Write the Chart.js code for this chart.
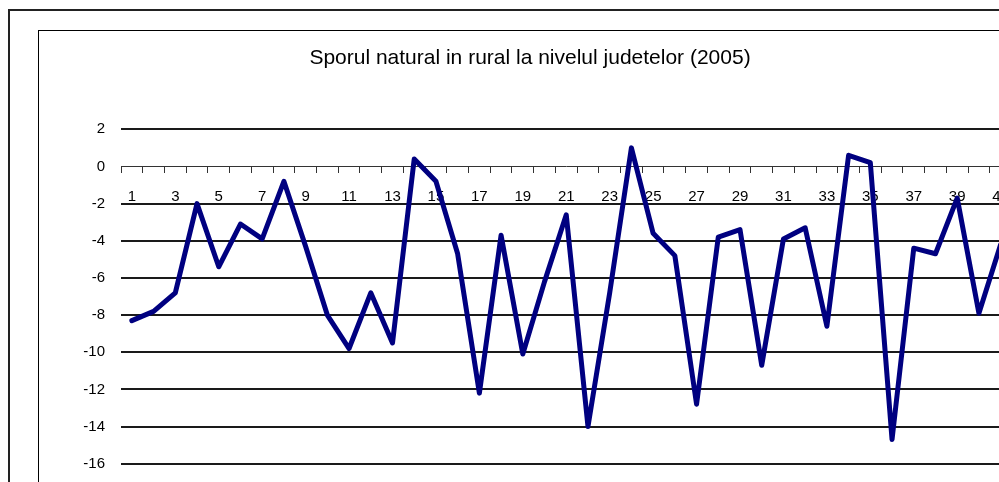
<!DOCTYPE html>
<html>
<head>
<meta charset="utf-8">
<script src="https://cdn.jsdelivr.net/npm/chart.js@4.4.1/dist/chart.umd.min.js"></script>
<style>
  html, body { margin: 0; padding: 0; background: #fff; overflow: hidden; width: 999px; height: 482px; }
  #outer { position: absolute; left: 8px; top: 9px; width: 1100px; height: 600px; border: 2px solid #222; box-sizing: border-box; }
  #inner { position: absolute; left: 38px; top: 30px; width: 1100px; height: 600px; border: 1px solid #000; box-sizing: border-box; }
  #c { position: absolute; left: 0; top: 0; }
</style>
</head>
<body>
<div id="outer"></div>
<div id="inner"></div>
<canvas id="c" width="1060" height="520"></canvas>
<script>
const titleText = "Sporul natural in rural la nivelul judetelor (2005)";
const categories = ["1","2","3","4","5","6","7","8","9","10","11","12","13","14","15","16","17","18","19","20","21","22","23","24","25","26","27","28","29","30","31","32","33","34","35","36","37","38","39","40","41"];
const sporNatural = [-8.3,-7.8,-6.8,-2.0,-5.4,-3.1,-3.9,-0.8,-4.3,-8.0,-9.8,-6.8,-9.5,0.4,-0.8,-4.7,-12.2,-3.7,-10.1,-6.2,-2.6,-14.0,-6.8,1.0,-3.6,-4.8,-12.8,-3.8,-3.4,-10.7,-3.9,-3.3,-8.6,0.6,0.2,-14.7,-4.4,-4.7,-1.7,-7.9,-4.2];
const yMin = -16, yMax = 2, yStep = 2;

const FONT = "'Liberation Sans', Arial, sans-serif";

new Chart(document.getElementById('c'), {
  type: 'line',
  data: {
    labels: categories,
    datasets: [{
      data: sporNatural,
      borderColor: '#000080',
      borderWidth: 5,
      pointRadius: 0,
      pointHoverRadius: 0,
      tension: 0,
      borderJoinStyle: 'round',
      borderCapStyle: 'round',
      fill: false,
      clip: false
    }]
  },
  options: {
    responsive: false,
    devicePixelRatio: 1,
    animation: false,
    events: [],
    layout: { padding: { left: 0, right: 0, top: 0, bottom: 56.3 } },
    plugins: {
      legend: { display: false },
      tooltip: { enabled: false },
      title: {
        display: true,
        text: titleText,
        color: '#000',
        font: { family: FONT, size: 21, weight: 'normal', lineHeight: 1.2 },
        padding: { top: 46, bottom: 58.1 }
      }
    },
    scales: {
      x: {
        type: 'category',
        offset: true,
        position: { y: 0 },
        grid: {
          display: true,
          drawOnChartArea: false,
          drawTicks: true,
          tickLength: 6,
          tickColor: '#333',
          lineWidth: 1,
          offset: true
        },
        border: { display: true, color: '#333', width: 1 },
        ticks: {
          autoSkip: false,
          maxRotation: 0,
          minRotation: 0,
          padding: 15,
          color: '#000',
          font: { family: FONT, size: 15 },
          callback: function(value, index) { return index % 2 === 0 ? this.getLabelForValue(value) : ''; }
        }
      },
      y: {
        min: yMin,
        max: yMax,
        afterFit: (scale) => { scale.width = 121; },
        grid: {
          drawTicks: false,
          lineWidth: 2,
          color: (ctx) => (ctx.tick && ctx.tick.value === 0) ? 'rgba(0,0,0,0)' : '#1a1a1a'
        },
        border: { display: false },
        ticks: {
          stepSize: yStep,
          padding: 16,
          color: '#000',
          font: { family: FONT, size: 15 }
        }
      },
      yRightSpacer: {
        position: 'right',
        min: yMin,
        max: yMax,
        afterFit: (scale) => { scale.width = 48.5; },
        grid: { display: false, drawOnChartArea: false, drawTicks: false },
        border: { display: false },
        ticks: { display: false }
      }
    }
  }
});
</script>
</body>
</html>
